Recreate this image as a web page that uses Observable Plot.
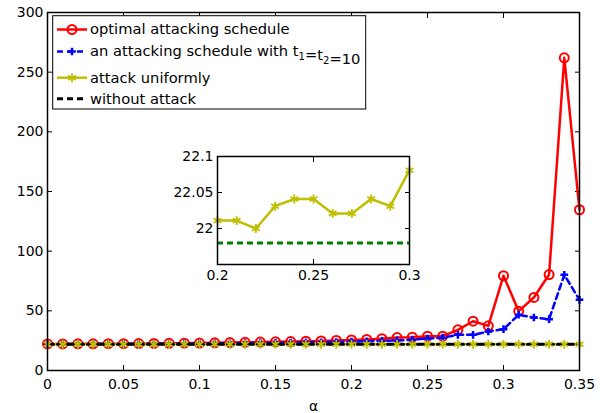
<!DOCTYPE html>
<html><head><meta charset="utf-8">
<script src="https://cdn.jsdelivr.net/npm/d3@7"></script>
<script src="https://cdn.jsdelivr.net/npm/@observablehq/plot@0.6"></script>
<style>
html,body{margin:0;padding:0;background:#fff;}
#wrap{position:relative;width:605px;height:413px;overflow:hidden;}
#wrap svg{position:absolute;}
</style></head><body><div id="wrap"></div>
<script>
const alpha = [0,0.01,0.02,0.03,0.04,0.05,0.06,0.07,0.08,0.09,0.1,0.11,0.12,0.13,0.14,0.15,0.16,0.17,0.18,0.19,0.2,0.21,0.22,0.23,0.24,0.25,0.26,0.27,0.28,0.29,0.3,0.31,0.32,0.33,0.34,0.35];
const optimal = [22.3,22.3,22.4,22.4,22.5,22.5,22.6,22.7,22.8,22.9,23.0,23.2,23.4,23.6,23.8,24.0,24.2,24.5,24.8,25.2,25.6,26.0,26.6,27.6,27.9,28.8,28.8,34.1,41.3,37.4,79.4,49.7,61.2,80.4,262,134.7];
const fixedSchedule = [22.2,22.2,22.2,22.3,22.3,22.3,22.4,22.4,22.5,22.5,22.6,22.7,22.8,22.9,23.0,23.2,23.3,23.5,23.7,23.9,24.2,24.5,24.8,25.2,25.8,26.8,27.5,29.9,29.9,32.7,34.6,46.7,44.4,43.0,80.2,59.2];
const uniform = [22.01,22.02,22.00,22.03,22.01,22.02,22.04,22.01,22.03,22.02,22.00,22.03,22.02,22.01,22.04,22.02,22.03,22.01,22.02,22.03,22.011,22.011,22.000,22.031,22.041,22.041,22.021,22.021,22.041,22.031,22.081,22.02,22.05,22.03,22.04,22.06];
const noAttack = 21.98;

const xTicks = [0,0.05,0.1,0.15,0.2,0.25,0.3,0.35];
const yTicks = [0,50,100,150,200,250,300];
const insetXTicks = [0.2,0.25,0.3];
const insetYTicks = [22,22.05,22.1];
const seriesNames = ["optimal attacking schedule","an attacking schedule with t_1=t_2=10","attack uniformly","without attack"];
const seriesColors = ["#ff0000","#0000ff","#bfbf00","#000000"];
const seriesSymbols = ["circle","plus","asterisk",null];
const seriesDash = [null,"6,4",null,"6,4"];

const fmt = d => String(+d.toFixed(2));
const rows = alpha.map((a,i)=>({a, opt: optimal[i], fix: fixedSchedule[i], uni: uniform[i]}));
const [RED,BLUE,YEL] = seriesColors;
const GRN = "#008000";
const FONT = "'DejaVu Sans', sans-serif";
const STAR_R = 4.2;

const main = Plot.plot({
  width:605, height:413, marginLeft:47, marginRight:26, marginTop:12, marginBottom:43,
  style:{fontFamily:FONT, fontSize:"14px", background:"white", color:"black", overflow:"visible"},
  x:{domain:[0,0.35]}, y:{domain:[0,300]},
  marks:[
    Plot.axisX({anchor:"bottom", ticks:xTicks, tickFormat:fmt, tickSize:-5, tickPadding:14, label:"α", labelAnchor:"center", labelArrow:"none", labelOffset:40}),
    Plot.axisX({anchor:"top", ticks:xTicks, tickFormat:()=>"", tickSize:-5, label:null}),
    Plot.axisY({anchor:"left", ticks:yTicks, tickSize:-5, tickPadding:9, label:null}),
    Plot.axisY({anchor:"right", ticks:yTicks, tickFormat:()=>"", tickSize:-5, label:null}),
    Plot.lineY(rows, {x:"a", y:"opt", stroke:RED, strokeWidth:2.5}),
    Plot.dot(rows, {x:"a", y:"opt", r:4.5, stroke:RED, strokeWidth:2, fill:"none"}),
    Plot.lineY(rows, {x:"a", y:"fix", stroke:BLUE, strokeWidth:2.5, strokeDasharray:"6,4"}),
    Plot.dot(rows, {x:"a", y:"fix", symbol:"plus", r:2.6, stroke:BLUE, strokeWidth:2.5}),
    Plot.lineY(rows, {x:"a", y:"uni", stroke:YEL, strokeWidth:2.5}),
    Plot.lineY(rows, {x:"a", y:()=>noAttack, stroke:"black", strokeWidth:3, strokeDasharray:"6,4"}),
    Plot.dot(rows, {x:"a", y:"uni", symbol:"asterisk", r:STAR_R, stroke:YEL, strokeWidth:1.8}),
    Plot.frame({stroke:"black", strokeWidth:1.5})
  ]
});
main.style.left = "0px"; main.style.top = "0px";

// legend
const svg = d3.select(main);
const lg = svg.append("g").attr("font-family", FONT).attr("font-size", "14.7px")
  .attr("fill","black").attr("text-anchor","start");
lg.append("rect").attr("x",52.7).attr("y",15.7).attr("width",313).attr("height",93.3)
  .attr("fill","white").attr("stroke","black").attr("stroke-width",1);
const rowY = [29.5, 51.5, 77.7, 98.7];
const symGen = {plus:d3.symbolPlus, asterisk:d3.symbolAsterisk};
seriesNames.forEach((name,i)=>{
  const y = rowY[i];
  const ln = lg.append("line").attr("x1",57).attr("x2",87).attr("y1",y).attr("y2",y)
    .attr("stroke",seriesColors[i]).attr("stroke-width", i===3?3:2.5);
  if (seriesDash[i]) ln.attr("stroke-dasharray", seriesDash[i]);
  const s = seriesSymbols[i];
  if (s === "circle") {
    lg.append("circle").attr("cx",72).attr("cy",y).attr("r",4.5).attr("fill","none").attr("stroke",seriesColors[i]).attr("stroke-width",2);
  } else if (s) {
    const rr = s==="plus" ? 2.6 : STAR_R;
    lg.append("path").attr("transform",`translate(72,${y})`).attr("d", d3.symbol(symGen[s], Math.PI*rr*rr)())
      .attr("fill","none").attr("stroke",seriesColors[i]).attr("stroke-width", s==="plus"?2.5:1.8);
  }
  const t = lg.append("text").attr("x",90).attr("y",y+4.8).attr("text-anchor","start");
  name.split(/(_\d)/).forEach(part=>{
    if (/^_\d$/.test(part)) {
      t.append("tspan").attr("font-size","10px").attr("dy",4).text(part.slice(1));
      t.append("tspan").attr("dy",-4).text("");
    } else if (part) {
      t.append("tspan").text(part);
    }
  });
});

// inset
const insetRows = rows.filter(d => d.a > 0.2 - 1e-9 && d.a < 0.3 + 1e-9);
const inset = Plot.plot({
  width:245, height:143, marginLeft:45, marginRight:8, marginTop:8, marginBottom:27,
  style:{fontFamily:FONT, fontSize:"14px", background:"transparent", color:"black", overflow:"visible"},
  x:{domain:[0.2,0.3]}, y:{domain:[21.95,22.1]},
  marks:[
    Plot.frame({fill:"white"}),
    Plot.axisX({anchor:"bottom", ticks:insetXTicks, tickFormat:fmt, tickSize:-5, tickPadding:11, label:null}),
    Plot.axisX({anchor:"top", ticks:insetXTicks, tickFormat:()=>"", tickSize:-5, label:null}),
    Plot.axisY({anchor:"left", ticks:insetYTicks, tickFormat:fmt, tickSize:-5, tickPadding:9, label:null}),
    Plot.axisY({anchor:"right", ticks:insetYTicks, tickFormat:()=>"", tickSize:-5, label:null}),
    Plot.ruleY([noAttack], {stroke:GRN, strokeWidth:3, strokeDasharray:"6,4"}),
    Plot.lineY(insetRows, {x:"a", y:"uni", stroke:YEL, strokeWidth:2.5}),
    Plot.dot(insetRows, {x:"a", y:"uni", symbol:"asterisk", r:STAR_R, stroke:YEL, strokeWidth:1.8}),
    Plot.frame({stroke:"black", strokeWidth:1.5})
  ]
});
inset.style.left = "172px"; inset.style.top = "148px";

const wrap = document.getElementById("wrap");
wrap.appendChild(main);
wrap.appendChild(inset);
</script></body></html>
